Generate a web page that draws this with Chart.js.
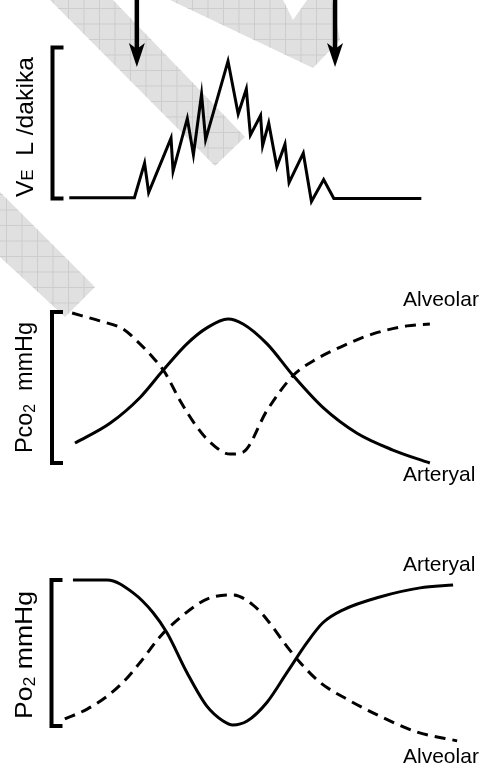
<!DOCTYPE html>
<html>
<head>
<meta charset="utf-8">
<script src="https://cdn.jsdelivr.net/npm/chart.js@4.4.1/dist/chart.umd.min.js"></script>
<style>
  html, body { margin: 0; padding: 0; background: #fff; }
  #wrap { position: relative; width: 489px; height: 771px; overflow: hidden; }
  canvas { position: absolute; left: 0; top: 0; }
</style>
</head>
<body>
<div id="wrap">
  <canvas id="ve" width="489" height="771"></canvas>
  <canvas id="pco2" width="489" height="771"></canvas>
  <canvas id="po2" width="489" height="771"></canvas>
</div>
<script>
// time runs 0..100 across every panel, each response is 0..100 of its bracket

// ventilation (VE L/dakika)
const veTime = [4, 20, 22.5, 23.5, 29, 29.5, 33, 34.5, 36.5, 37.5, 43, 45.5, 47.5, 48.5, 51, 51.5, 53, 55, 57, 58, 61.5, 63.5, 66.5, 69, 90.5];
const veFlow = [0.5, 0.5, 23.5, 4, 40, 18, 53, 29, 69, 39, 91, 56, 72.5, 42, 55, 35, 50, 21, 36, 10.5, 30, -2, 12.5, 0, 0];
const arrowTimes = [20.6, 69.3];

// PCO2
const pco2AlvTime = [4.7, 11.5, 17.2, 20.6, 24.6, 27.5, 31.2, 35.4, 38.6, 43.5, 46.7, 52.6, 59, 64.9, 71.3, 78.6, 87, 92.6];
const pco2Alv = [99.3, 94.1, 88.8, 80.9, 69.7, 59.9, 41.4, 23.7, 13.8, 5.9, 7.2, 34.9, 57.9, 69.1, 77.6, 85.5, 90.8, 92.1];
const pco2ArtTime = [5.4, 14, 21.4, 27, 32.9, 37.8, 43, 46.7, 52.6, 59, 66.3, 74.7, 83.5, 92.6];
const pco2Art = [13.2, 26.3, 43.4, 61.2, 78.9, 89.5, 95.4, 92.1, 78.9, 57.9, 36.8, 19.7, 8.6, 0];

// PO2
const po2ArtTime = [4.9, 13.3, 19.7, 24.6, 28, 32.9, 37.8, 41.8, 44.2, 47.7, 52.6, 57.5, 62.4, 66.3, 71.3, 80.3, 90.2, 98.3];
const po2Art = [100, 100, 91.2, 77.6, 63.9, 36.7, 13.6, 3.4, 0.7, 3.4, 16.3, 36.7, 57.1, 70.7, 79.6, 88.4, 94.6, 96.6];
const po2AlvTime = [2.9, 8.4, 13.3, 17.2, 21.4, 26.3, 31.2, 36.1, 39.3, 44.2, 49.1, 52.6, 57.5, 60.7, 65.6, 72.2, 80.3, 89.4, 99.3];
const po2Alv = [4.8, 11.6, 20.4, 29.9, 43.5, 61.2, 74.1, 84.4, 88.4, 89.8, 83, 72.8, 54.4, 43.5, 29.9, 18.4, 6.8, -4.1, -10.2];

const FONT = '"Liberation Sans", Arial, sans-serif';

function pts(xs, ys) {
  return xs.map((x, i) => ({ x: x, y: ys[i] }));
}

function series(xs, ys, dashed, smooth) {
  return {
    data: pts(xs, ys),
    borderColor: '#000',
    borderWidth: 3,
    borderDash: dashed ? [11, 7] : [],
    borderJoinStyle: 'miter',
    pointRadius: 0,
    fill: false,
    clip: false,
    cubicInterpolationMode: smooth ? 'monotone' : 'default',
    tension: 0
  };
}

// grey watermark bands with their fine grid
const watermark = {
  id: 'watermark',
  beforeDraw(chart) {
    const ctx = chart.ctx;
    const bands = [
      [[50, 0], [113, 0], [245, 137], [215, 166]],
      [[170, 0], [283, 0], [293, 20], [307, 0], [332, 0], [340, 40], [313, 68]],
      [[0, 192], [95, 287], [65, 317], [0, 257]]
    ];
    ctx.save();
    bands.forEach(b => {
      ctx.beginPath();
      b.forEach((p, i) => i ? ctx.lineTo(p[0], p[1]) : ctx.moveTo(p[0], p[1]));
      ctx.closePath();
      ctx.fillStyle = '#e0e0e0';
      ctx.fill();
      ctx.save();
      ctx.clip();
      ctx.strokeStyle = '#cdcdcd';
      ctx.lineWidth = 1;
      ctx.beginPath();
      for (let x = 6.5; x < 489; x += 15.5) { ctx.moveTo(x, 0); ctx.lineTo(x, 771); }
      for (let y = 8.5; y < 400; y += 15.5) { ctx.moveTo(0, y); ctx.lineTo(489, y); }
      ctx.stroke();
      ctx.restore();
    });
    ctx.restore();
  }
};

// rotated axis title, stretched a little so it covers the same span as the original
function vertLabel(ctx, x, y, span, parts) {
  ctx.save();
  ctx.translate(x, y);
  ctx.rotate(-Math.PI / 2);
  ctx.fillStyle = '#000';
  ctx.textBaseline = 'alphabetic';
  let total = 0;
  parts.forEach(p => {
    ctx.font = p.size + 'px ' + FONT;
    total += ctx.measureText(p.t).width;
  });
  ctx.scale(span / total, 1);
  let cx = 0;
  parts.forEach(p => {
    ctx.font = p.size + 'px ' + FONT;
    ctx.fillText(p.t, cx, p.dy || 0);
    cx += ctx.measureText(p.t).width;
  });
  ctx.restore();
}

// bracket standing in for the y axis, plus the panel texts
const decor = {
  id: 'decor',
  afterDraw(chart, args, o) {
    const ctx = chart.ctx;
    const y = chart.scales.y, x = chart.scales.x;
    const top = y.getPixelForValue(y.max), bot = y.getPixelForValue(y.min);
    ctx.save();
    ctx.strokeStyle = '#000';
    ctx.lineWidth = 4;
    ctx.lineJoin = 'miter';
    ctx.setLineDash([]);
    ctx.beginPath();
    ctx.moveTo(o.bx + 11, top);
    ctx.lineTo(o.bx, top);
    ctx.lineTo(o.bx, bot);
    ctx.lineTo(o.bx + 11, bot);
    ctx.stroke();

    vertLabel(ctx, o.lx, o.ly, o.span, o.title);

    ctx.fillStyle = '#000';
    ctx.font = '21px ' + FONT;
    ctx.textBaseline = 'middle';
    (o.texts || []).forEach(t => ctx.fillText(t[0], t[1], t[2]));

    (o.arrows || []).forEach(t => {
      const px = x.getPixelForValue(t);
      ctx.lineWidth = 4.5;
      ctx.beginPath();
      ctx.moveTo(px, 0);
      ctx.lineTo(px, 50);
      ctx.stroke();
      ctx.beginPath();
      ctx.moveTo(px - 8, 43);
      ctx.lineTo(px, 49);
      ctx.lineTo(px + 8, 43);
      ctx.lineTo(px, 67);
      ctx.closePath();
      ctx.fill();
    });
    ctx.restore();
  }
};

function panel(id, top, bottom, datasets, decorOpts, extra) {
  return new Chart(document.getElementById(id), {
    type: 'line',
    data: { datasets: datasets },
    options: {
      responsive: false,
      animation: false,
      layout: { padding: { left: 53, right: 29, top: top, bottom: 771 - bottom } },
      scales: {
        x: { type: 'linear', min: 0, max: 100, display: false },
        y: { type: 'linear', min: 0, max: 100, display: false }
      },
      plugins: { legend: { display: false }, tooltip: { enabled: false }, decor: decorOpts }
    },
    plugins: (extra || []).concat([decor])
  });
}

panel('ve', 47.5, 198.5, [series(veTime, veFlow, false, false)], {
  bx: 52.5, lx: 33, ly: 197, span: 140,
  title: [{ t: 'V', size: 24 }, { t: 'E', size: 16 }, { t: '  L /dakika', size: 24 }],
  arrows: arrowTimes
}, [watermark]);

panel('pco2', 312, 463, [
  series(pco2AlvTime, pco2Alv, true, true),
  series(pco2ArtTime, pco2Art, false, true)
], {
  bx: 52, lx: 32, ly: 453, span: 131,
  title: [{ t: 'Pco', size: 24 }, { t: '2', size: 16, dy: 3 }, { t: '  mmHg', size: 24 }],
  texts: [['Alveolar', 403, 300], ['Arteryal', 403, 475]]
});

panel('po2', 580, 726, [
  series(po2ArtTime, po2Art, false, true),
  series(po2AlvTime, po2Alv, true, true)
], {
  bx: 51.5, lx: 32, ly: 719, span: 128,
  title: [{ t: 'Po', size: 24 }, { t: '2', size: 16, dy: 3 }, { t: ' mmHg', size: 24 }],
  texts: [['Arteryal', 403, 565], ['Alveolar', 403, 757]]
});
</script>
</body>
</html>
